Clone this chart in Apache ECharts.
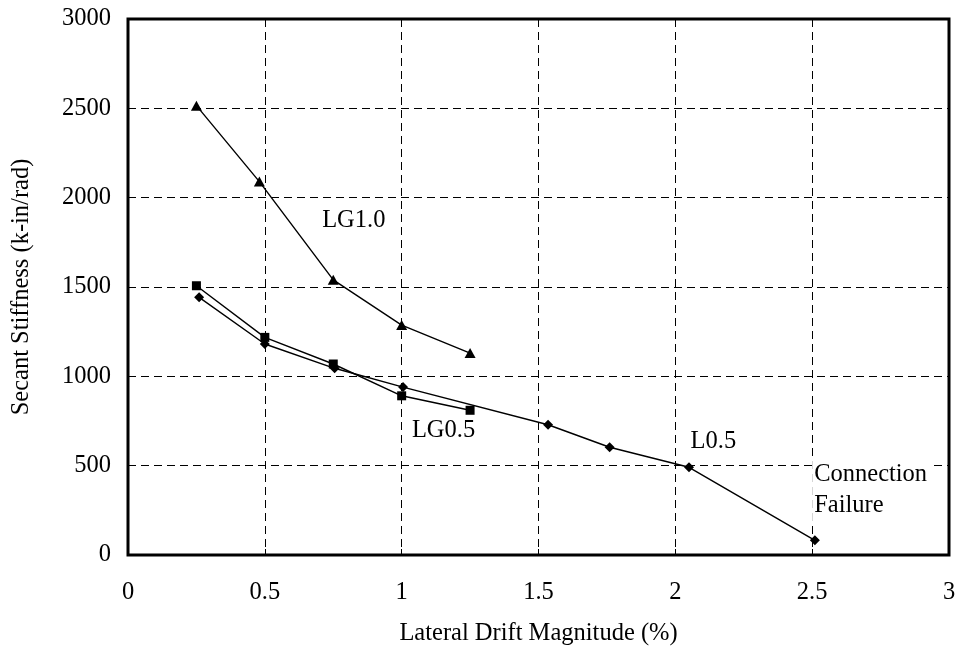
<!DOCTYPE html>
<html>
<head>
<meta charset="utf-8">
<script src="https://cdn.jsdelivr.net/npm/echarts@6/dist/echarts.min.js"></script>
<style>
  html, body { margin: 0; padding: 0; background: #fff; }
  #chart { width: 956px; height: 648px; }
</style>
</head>
<body>
<div id="chart"></div>
<script>
// Secant stiffness vs. lateral drift for the three connection specimens
const lg10Drift = [0.25, 0.48, 0.75, 1.0, 1.25];
const lg10Stiffness = [2515, 2090, 1540, 1287, 1130];

const lg05Drift = [0.25, 0.50, 0.75, 1.0, 1.25];
const lg05Stiffness = [1507, 1218, 1069, 891, 810];

const l05Drift = [0.26, 0.50, 0.755, 1.005, 1.535, 1.76, 2.05, 2.51];
const l05Stiffness = [1442, 1181, 1045, 940, 729, 603, 491, 82];

const xTicks = [0, 0.5, 1, 1.5, 2, 2.5, 3];
const yTicks = [0, 500, 1000, 1500, 2000, 2500, 3000];

// Text notes placed in data units
const noteText = ['LG1.0', 'LG0.5', 'L0.5', 'Connection\nFailure'];
const noteX = [0.825, 1.153, 2.139, 2.5];
const noteY = [1872, 695, 635, 364];

const FONT = '"Liberation Serif", "Times New Roman", serif';
const FS = 24.5;

function pairs(xs, ys) { return xs.map((x, i) => [x, ys[i]]); }

const lineSeries = (name, xs, ys, symbol, size) => ({
  name,
  type: 'line',
  data: pairs(xs, ys),
  symbol,
  symbolSize: size,
  showAllSymbol: true,
  lineStyle: { color: '#000', width: 1.4 },
  itemStyle: { color: '#000', opacity: 1 },
  animation: false,
  z: 3
});

const chart = echarts.init(document.getElementById('chart'), null, { renderer: 'canvas' });

chart.setOption({
  backgroundColor: '#fff',
  animation: false,
  grid: {
    left: 128, top: 19, right: 7, bottom: 93,
    containLabel: false,
    outerBoundsMode: 'none',
    show: true, borderColor: '#000', borderWidth: 3, backgroundColor: 'transparent'
  },
  xAxis: {
    type: 'value',
    min: xTicks[0], max: xTicks[xTicks.length - 1], interval: xTicks[1] - xTicks[0],
    name: 'Lateral Drift Magnitude (%)',
    nameLocation: 'middle', nameGap: 66,
    nameTextStyle: { fontFamily: FONT, fontSize: FS, color: '#000' },
    axisLine: { show: false },
    axisTick: { show: true, inside: true, length: 6, lineStyle: { color: '#000', width: 1 } },
    axisLabel: { fontFamily: FONT, fontSize: FS, color: '#000', margin: 25, formatter: v => String(v) },
    splitLine: { show: true, lineStyle: { color: '#000', type: [8, 5], width: 1 } }
  },
  yAxis: {
    type: 'value',
    min: yTicks[0], max: yTicks[yTicks.length - 1], interval: yTicks[1] - yTicks[0],
    name: 'Secant Stiffness (k-in/rad)',
    nameLocation: 'middle', nameGap: 94,
    nameTextStyle: { fontFamily: FONT, fontSize: FS, color: '#000' },
    axisLine: { show: false },
    axisTick: { show: true, inside: true, length: 6, lineStyle: { color: '#000', width: 1 } },
    axisLabel: { fontFamily: FONT, fontSize: FS, color: '#000', margin: 17, formatter: v => String(v) },
    splitLine: { show: true, lineStyle: { color: '#000', type: [8, 5], width: 1 } }
  },
  series: [
    lineSeries('LG1.0', lg10Drift, lg10Stiffness, 'triangle', [11, 10]),
    lineSeries('LG0.5', lg05Drift, lg05Stiffness, 'rect', 9),
    lineSeries('L0.5', l05Drift, l05Stiffness, 'diamond', [10, 10]),
    {
      name: 'notes',
      type: 'scatter',
      symbolSize: 0,
      silent: true,
      z: 2,
      itemStyle: { opacity: 1 },
      data: noteText.map((t, i) => ({
        value: [noteX[i], noteY[i]],
        label: {
          show: true,
          formatter: t,
          position: i === 3 ? 'right' : 'inside',
          distance: 0,
          align: i === 3 ? 'left' : 'center',
          verticalAlign: 'middle',
          fontFamily: FONT,
          fontSize: FS,
          lineHeight: 31,
          color: '#000',
          opacity: 1,
          backgroundColor: '#fff',
          padding: [3, 2, 3, 2]
        }
      }))
    }
  ]
});
</script>
</body>
</html>
